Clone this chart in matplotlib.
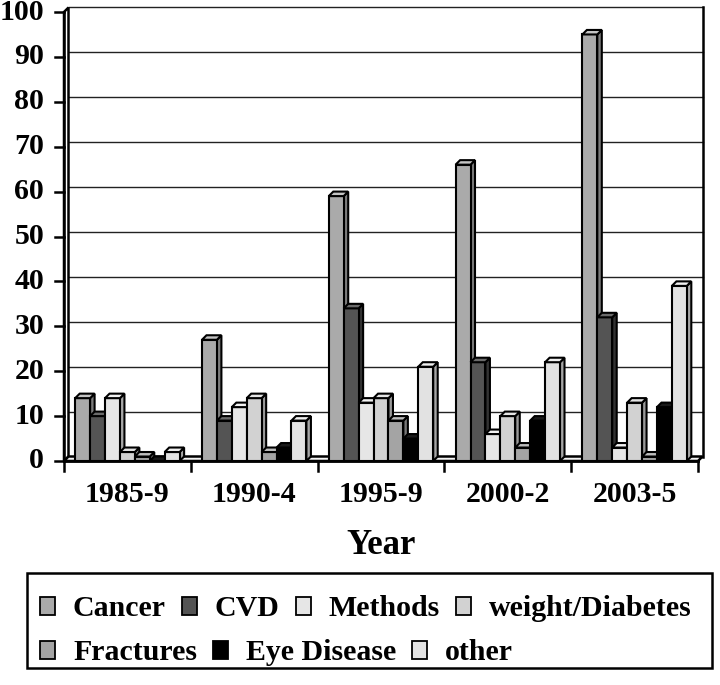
import matplotlib
matplotlib.use("Agg")
import matplotlib.pyplot as plt
from matplotlib.patches import Polygon, Rectangle
from matplotlib.transforms import IdentityTransform
import numpy as np

categories = ["1985-9", "1990-4", "1995-9", "2000-2", "2003-5"]
series_names = ["Cancer", "CVD", "Methods", "weight/Diabetes", "Fractures", "Eye Disease", "other"]
cancer = [14, 27, 59, 66, 95]
cvd = [10, 9, 34, 22, 32]
methods = [14, 12, 13, 6, 3]
weight_diabetes = [2, 14, 14, 10, 13]
fractures = [1, 2, 9, 3, 1]
eye_disease = [0, 3, 5, 9, 12]
other = [2, 9, 21, 22, 39]
values = [cancer, cvd, methods, weight_diabetes, fractures, eye_disease, other]
y_ticks = list(range(0, 101, 10))

front_cols = ["#aaaaaa", "#545454", "#e6e6e6", "#d2d2d2", "#a4a4a4", "#000000", "#e2e2e2"]
top_cols = ["#c4c4c4", "#6a6a6a", "#f2f2f2", "#e4e4e4", "#bdbdbd", "#1a1a1a", "#f0f0f0"]
side_cols = ["#7c7c7c", "#333333", "#a8a8a8", "#9a9a9a", "#787878", "#000000", "#a6a6a6"]

W, H = 720, 685
fig = plt.figure(figsize=(7.2, 6.85), dpi=100)
FONT = "Liberation Serif"

# front frame of plot, pixel coords (top-origin)
px_l, px_r, px_b, px_t = 64, 698, 461, 12
ax = fig.add_axes([px_l / W, (H - px_b) / H, (px_r - px_l) / W, (px_b - px_t) / H])
n = len(categories)
ax.set_xlim(-0.5, n - 0.5)
ax.set_ylim(0, 100)
ax.axis("off")

ppx = (px_r - px_l) / n          # px per category
ppy = (px_b - px_t) / 100.0      # px per unit
depth_px = 4.5
ddx = depth_px / ppx
ddy = depth_px / ppy

lc = "#000000"
# back wall gridlines
for v in y_ticks[1:]:
    ax.plot([-0.5 + ddx, n - 0.5 + ddx], [v + ddy, v + ddy], color="#222222", lw=1.0,
            clip_on=False, zorder=1)
# right wall edge
ax.plot([n - 0.5 + ddx, n - 0.5 + ddx], [ddy, 100 + ddy], color=lc, lw=1.8, clip_on=False, zorder=1)
# left side wall (edge-on)
ax.add_patch(Polygon([(-0.5, 0), (-0.5, 100), (-0.5 + ddx, 100 + ddy), (-0.5 + ddx, ddy)],
                     closed=True, facecolor="white", edgecolor=lc, lw=1.8, clip_on=False, zorder=2))
# floor slab
ax.add_patch(Polygon([(-0.5, 0), (n - 0.5, 0), (n - 0.5 + ddx, ddy), (-0.5 + ddx, ddy)],
                     closed=True, facecolor="#f4f4f4", edgecolor=lc, lw=1.8, clip_on=False, zorder=2))

# bars
ns = len(series_names)
w = 1.0 / (ns + 1.5)
for j in range(n):
    for i in range(ns):
        h = values[i][j]
        xc = j + (i - (ns - 1) / 2) * w
        l = xc - w / 2
        z = 3 + i * 0.01 + j
        if h > 0:
            ax.add_patch(Polygon([(l + w, 0), (l + w, h), (l + w + ddx, h + ddy), (l + w + ddx, ddy)],
                                 closed=True, facecolor=side_cols[i], edgecolor=lc, lw=1.5,
                                 clip_on=False, zorder=z))
            ax.bar(l, h, width=w, align="edge", color=front_cols[i], edgecolor=lc, lw=1.5,
                   zorder=z, clip_on=False)
        ax.add_patch(Polygon([(l, h), (l + w, h), (l + w + ddx, h + ddy), (l + ddx, h + ddy)],
                             closed=True, facecolor=top_cols[i], edgecolor=lc, lw=1.5,
                             clip_on=False, zorder=z))

# front y axis and ticks
ax.plot([-0.5, -0.5], [0, 100], color=lc, lw=1.8, clip_on=False, zorder=10)
tick_px = 9
for v in y_ticks:
    ax.plot([-0.5 - tick_px / ppx, -0.5], [v, v], color=lc, lw=1.8, clip_on=False, zorder=10)
    ax.text(-0.5 - 20 / ppx, v, str(v), ha="right", va="center", fontsize=21.5,
            fontweight="bold", family=FONT)
# front x axis and ticks
ax.plot([-0.5, n - 0.5], [0, 0], color=lc, lw=2.0, clip_on=False, zorder=10)
for b in np.arange(-0.5, n, 1.0):
    ax.plot([b, b], [0, -10 / ppy], color=lc, lw=1.8, clip_on=False, zorder=10)
for j, c in enumerate(categories):
    ax.text(j, -34 / ppy, c, ha="center", va="center", fontsize=21.5, fontweight="bold", family=FONT)
fig.text(381 / W, (H - 545) / H, "Year", ha="center", va="center", fontsize=25,
         fontweight="bold", family=FONT)

# legend (flowing rows, like the original)
box_l, box_r, box_t, box_b = 27, 712, 573, 668
fig.patches.append(Rectangle((box_l, H - box_b), box_r - box_l, box_b - box_t, transform=IdentityTransform(),
                             facecolor="white", edgecolor=lc, lw=1.8, figure=fig))
renderer = fig.canvas.get_renderer()
rows = [[0, 1, 2, 3], [4, 5, 6]]
row_y = [606, 650]
for r, items in enumerate(rows):
    x = 40
    yc = H - row_y[r]
    for i in items:
        fig.patches.append(Rectangle((x, yc - 9), 15, 18, transform=IdentityTransform(),
                                     facecolor=front_cols[i], edgecolor=lc, lw=1.3, figure=fig))
        t = fig.text(x + 33, yc - 10, series_names[i], transform=IdentityTransform(), ha="left",
                     va="baseline", fontsize=21.5, fontweight="bold", family=FONT)
        bb = t.get_window_extent(renderer=renderer)
        x = bb.x1 + 16

fig.savefig("out.png", dpi=100)
